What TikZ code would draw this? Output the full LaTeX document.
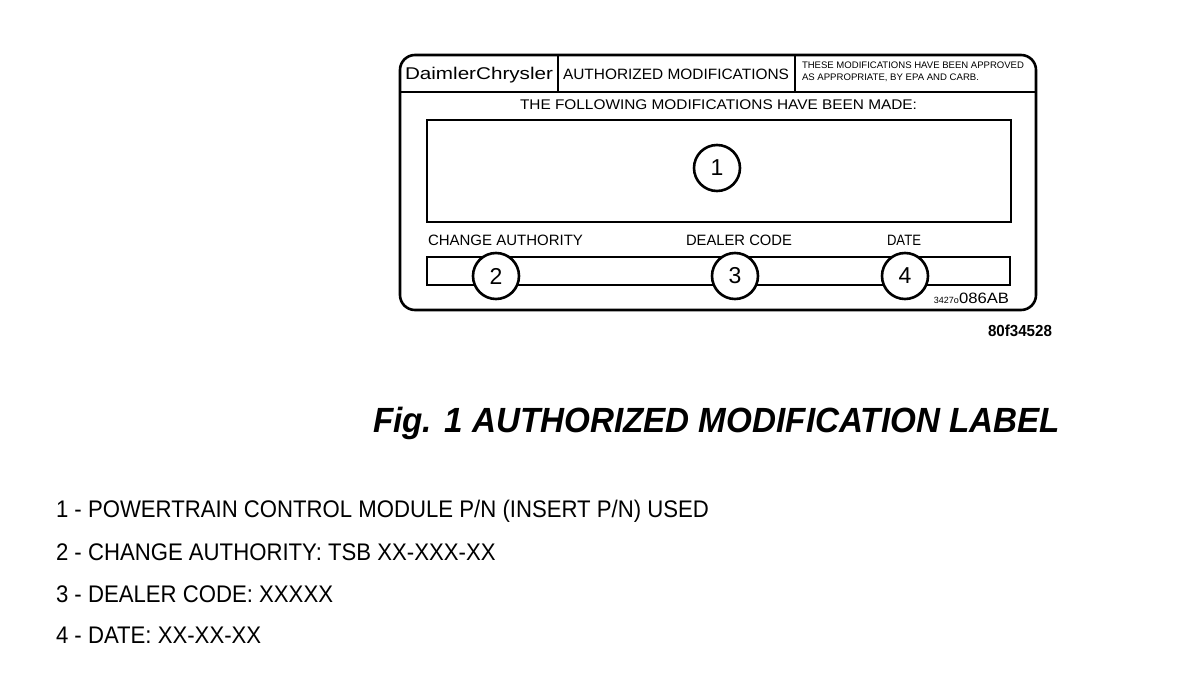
\documentclass[tikz,border=0pt]{standalone}
\usepackage{fontspec}
\usepackage{graphicx}
\setmainfont{Liberation Sans}
\newlength\fitlen
\newcommand\fitw[2]{\settowidth\fitlen{#2}\pgfmathsetmacro\fitsc{#1/\fitlen}\scalebox{\fitsc}[1]{#2}}
\newcommand\setlistsc[1]{\settowidth\fitlen{#1}\pgfmathsetmacro\listsc{653/\fitlen}\global\let\listsc\listsc}
\tikzset{
  frame/.style={draw=black,line width=2.6pt,rounded corners=15pt},
  rule/.style={draw=black,line width=2.2pt},
  box/.style={draw=black,line width=2.2pt},
  callout/.style={circle,draw=black,fill=white,line width=2.6pt,minimum size=46pt,inner sep=0pt,font=\fontsize{23}{23}\selectfont},
  lbl/.style={inner sep=0pt,outer sep=0pt},
  legend/.style={lbl,anchor=base west,font=\fontsize{24}{24}\selectfont},
}
\begin{document}
\begin{tikzpicture}[x=1pt,y=-1pt]
\useasboundingbox (0,0) rectangle (1184,684);
% label frame
\draw[frame] (400,55) rectangle (1036,310);
\coordinate (hl) at (400,92);
\coordinate (hr) at (1036,92);
\draw[rule] (hl) -- (hr);
\coordinate (d1t) at (558,55); \coordinate (d1b) at (558,92);
\coordinate (d2t) at (795,55); \coordinate (d2b) at (795,92);
\draw[rule] (d1t) -- (d1b);
\draw[rule] (d2t) -- (d2b);
% header texts
\node[lbl,anchor=base west] (brand) at (405,80) {\fontsize{17}{17}\selectfont\fitw{148pt}{DaimlerChrysler}};
\node[lbl,anchor=base west] (auth) at (563,80) {\fontsize{15}{15}\selectfont\fitw{226pt}{AUTHORIZED MODIFICATIONS}};
\node[lbl,anchor=base west] (ap1) at (802,69) {\fontsize{9.5}{9.5}\selectfont\fitw{222pt}{THESE MODIFICATIONS HAVE BEEN APPROVED}};
\node[lbl,anchor=base west] (ap2) at (802,81) {\fontsize{9.5}{9.5}\selectfont\fitw{177pt}{AS APPROPRIATE, BY EPA AND CARB.}};
\node[lbl,anchor=base west] (follow) at (520,110) {\fontsize{14}{14}\selectfont\fitw{397pt}{THE FOLLOWING MODIFICATIONS HAVE BEEN MADE:}};
% boxes
\draw[box] (427,120) rectangle (1011,222);
\node[lbl,anchor=base west] (cha) at (428,246) {\fontsize{15}{15}\selectfont\fitw{155pt}{CHANGE AUTHORITY}};
\node[lbl,anchor=base] (dlc) at (739,246) {\fontsize{15}{15}\selectfont\fitw{106pt}{DEALER CODE}};
\node[lbl,anchor=base] (dat) at (904,246) {\fontsize{15}{15}\selectfont\fitw{34pt}{DATE}};
\draw[box] (427,257) rectangle (1010,285);
% callouts
\node[callout] (c1) at (717,168) {1};
\node[callout] (c2) at (496,276) {2};
\node[callout] (c3) at (735,276) {3};
\node[callout] (c4) at (905,276) {4};
% code
\node[lbl,anchor=base east] (code) at (1009,304) {\fontsize{9}{9}\selectfont 3427o\fontsize{15}{15}\selectfont\fitw{50pt}{086AB}};
\node[lbl,anchor=base east] (ref) at (1052,337) {\bfseries\fontsize{16}{16}\selectfont\fitw{64pt}{80f34528}};
% title
\node[lbl,anchor=base west] (title) at (373,433) {\bfseries\itshape\fontsize{35}{35}\selectfont\fitw{687pt}{Fig. 1 AUTHORIZED MODIFICATION LABEL}};
% legend
\node[legend] (l1) at (56,518) {\setlistsc{1 - POWERTRAIN CONTROL MODULE P/N (INSERT P/N) USED}\scalebox{\listsc}[1]{1 - POWERTRAIN CONTROL MODULE P/N (INSERT P/N) USED}};
\node[legend] (l2) at (56,560) {\scalebox{\listsc}[1]{2 - CHANGE AUTHORITY: TSB XX-XXX-XX}};
\node[legend] (l3) at (56,602) {\scalebox{\listsc}[1]{3 - DEALER CODE: XXXXX}};
\node[legend] (l4) at (56,643) {\scalebox{\listsc}[1]{4 - DATE: XX-XX-XX}};
\end{tikzpicture}
\end{document}
